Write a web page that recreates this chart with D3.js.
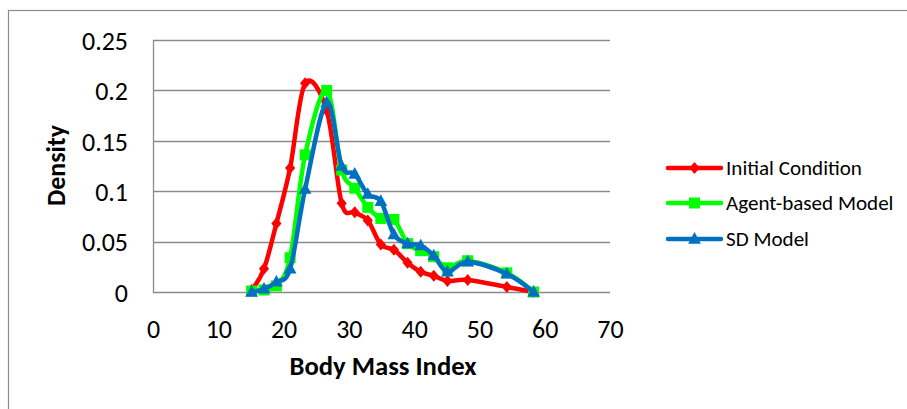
<!DOCTYPE html>
<html><head><meta charset="utf-8">
<script src="https://cdn.jsdelivr.net/npm/d3@7"></script>
<style>
html,body{margin:0;padding:0;background:#fff;}
svg{display:block;font-family:Carlito, Calibri, Lato, sans-serif;}
</style></head>
<body>
<svg id="chart" width="907" height="409"></svg>
<script>
// ---- data ----
const bmi = [15.1, 17.0, 18.9, 21.0, 23.3, 26.6, 28.9, 30.9, 32.9, 34.9, 36.9, 39.0, 41.0, 43.0, 45.1, 48.2, 54.2, 58.3];
const initialCondition = [0.002, 0.023, 0.068, 0.123, 0.207, 0.180, 0.088, 0.079, 0.071, 0.047, 0.042, 0.029, 0.020, 0.016, 0.011, 0.012, 0.005, 0.000];
const agentBased      = [0.001, 0.002, 0.006, 0.034, 0.136, 0.200, 0.121, 0.103, 0.084, 0.073, 0.072, 0.048, 0.041, 0.035, 0.024, 0.031, 0.019, 0.000];
const sdModel         = [0.000, 0.003, 0.010, 0.023, 0.102, 0.188, 0.125, 0.117, 0.097, 0.090, 0.057, 0.048, 0.046, 0.036, 0.020, 0.030, 0.018, 0.000];
const seriesNames = ["Initial Condition", "Agent-based Model", "SD Model"];
const seriesColors = ["#ff0000", "#00ff00", "#0070c0"];
const seriesMarkers = ["diamond", "square", "triangle"];
const xTicks = [0, 10, 20, 30, 40, 50, 60, 70];
const yTicks = [0, 0.05, 0.1, 0.15, 0.2, 0.25];
const yTickLabels = ["0", "0.05", "0.1", "0.15", "0.2", "0.25"];
const xTitle = "Body Mass Index";
const yTitle = "Density";

const seriesValues = [initialCondition, agentBased, sdModel];

const svg = d3.select("#chart");

// chart outer border (only left & top visible in the frame)
svg.append("rect").attr("x", 8.5).attr("y", 10.5).attr("width", 1000).attr("height", 500)
  .attr("fill", "none").attr("stroke", "#8c8c8c").attr("stroke-width", 1.2);

const plot = {left: 153, right: 610, top: 40, bottom: 292};
const x = d3.scaleLinear().domain([0, 70]).range([plot.left, plot.right]);
const y = d3.scaleLinear().domain([0, 0.25]).range([plot.bottom, plot.top]);

function fit(sel, target) {
  const n = sel.node();
  const base = parseFloat(sel.attr("font-size"));
  const w = n.getComputedTextLength();
  if (w > 0) sel.attr("font-size", (base * target / w).toFixed(2));
}

// gridlines
svg.append("g").selectAll("line").data(yTicks).join("line")
  .attr("x1", plot.left).attr("x2", plot.right)
  .attr("y1", d => Math.round(y(d)) + 0.5).attr("y2", d => Math.round(y(d)) + 0.5)
  .attr("stroke", "#8a8a8a").attr("stroke-width", 1.3);

// left axis line
svg.append("line").attr("x1", plot.left + 0.5).attr("x2", plot.left + 0.5)
  .attr("y1", plot.top).attr("y2", plot.bottom + 1)
  .attr("stroke", "#8a8a8a").attr("stroke-width", 1.3);

// y tick labels via d3 axis
const yAxis = d3.axisLeft(y).tickValues(yTicks).tickFormat((d, i) => yTickLabels[i]).tickSize(0).tickPadding(25);
const gy = svg.append("g").attr("transform", `translate(${plot.left},0)`).call(yAxis);
gy.select(".domain").remove();
gy.selectAll("text").attr("font-size", 22).attr("fill", "#000").attr("font-family", "Carlito, Calibri, Lato, sans-serif").attr("dy", "0.36em");
fit(gy.selectAll("text").filter((d, i) => i === 5), 46);
const yfs = gy.selectAll("text").filter((d, i) => i === 5).attr("font-size");
gy.selectAll("text").attr("font-size", yfs);

// x tick labels via d3 axis
const xAxis = d3.axisBottom(x).tickValues(xTicks).tickFormat(d3.format("d")).tickSize(0).tickPadding(28);
const gx = svg.append("g").attr("transform", `translate(0,${plot.bottom})`).call(xAxis);
gx.select(".domain").remove();
gx.selectAll("text").attr("font-size", yfs).attr("fill", "#000").attr("font-family", "Carlito, Calibri, Lato, sans-serif");

// axis titles
const xt = svg.append("text").attr("x", 383).attr("y", 375).attr("text-anchor", "middle")
  .attr("font-weight", "bold").attr("font-size", 22).text(xTitle);
fit(xt, 187);
const yt = svg.append("text").attr("transform", "translate(65,165.5) rotate(-90)").attr("text-anchor", "middle")
  .attr("font-weight", "bold").attr("font-size", 22).text(yTitle);
fit(yt, 81);

// series
const line = d3.line().x(d => x(d[0])).y(d => y(d[1])).curve(d3.curveCardinal.tension(0));
function marker(g, type, color, cx, cy, s) {
  if (type === "diamond") {
    g.append("path").attr("d", `M${cx},${cy - s}L${cx + s * 0.85},${cy}L${cx},${cy + s}L${cx - s * 0.85},${cy}Z`).attr("fill", color);
  } else if (type === "square") {
    g.append("rect").attr("x", cx - s).attr("y", cy - s).attr("width", 2 * s).attr("height", 2 * s).attr("fill", color);
  } else {
    g.append("path").attr("d", `M${cx},${cy - s * 1.2}L${cx + s * 1.1},${cy + s * 0.8}L${cx - s * 1.1},${cy + s * 0.8}Z`).attr("fill", color);
  }
}
const markerSize = [6, 5.5, 5.8];
seriesValues.forEach((vals, k) => {
  const pts = bmi.map((b, i) => [b, vals[i]]);
  const g = svg.append("g");
  g.append("path").attr("d", line(pts)).attr("fill", "none").attr("stroke", seriesColors[k])
    .attr("stroke-width", 4.5).attr("stroke-linejoin", "round").attr("stroke-linecap", "round");
  pts.forEach(p => marker(g, seriesMarkers[k], seriesColors[k], x(p[0]), y(p[1]), markerSize[k]));
});

// legend
const legY = [168, 203, 239];
seriesNames.forEach((name, k) => {
  const g = svg.append("g");
  g.append("line").attr("x1", 668).attr("x2", 721).attr("y1", legY[k]).attr("y2", legY[k])
    .attr("stroke", seriesColors[k]).attr("stroke-width", 4.5).attr("stroke-linecap", "round");
  marker(g, seriesMarkers[k], seriesColors[k], 694.5, legY[k], markerSize[k]);
  const t = g.append("text").attr("x", 726).attr("y", legY[k]).attr("dy", "0.35em")
    .attr("font-size", 17).attr("fill", "#000").text(name);
  if (k === 0) fit(t, 136);
});
const lfs = svg.selectAll("g text").filter(function(){return this.textContent === seriesNames[0];}).attr("font-size");
svg.selectAll("g text").filter(function(){return seriesNames.includes(this.textContent);}).attr("font-size", lfs);
</script>
</body></html>
